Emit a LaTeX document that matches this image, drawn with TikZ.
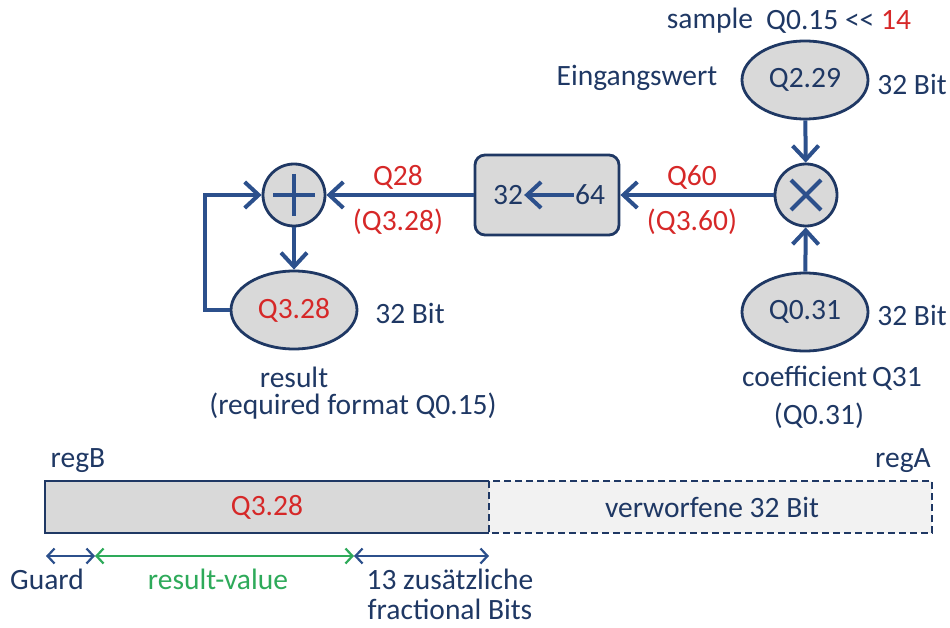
\documentclass[tikz,border=0pt]{standalone}
\usepackage{fontspec}
\setmainfont{Carlito}
\usetikzlibrary{arrows.meta,shapes.geometric}
\definecolor{navy}{RGB}{31,56,100}
\definecolor{linec}{RGB}{44,80,140}
\definecolor{qred}{RGB}{214,40,40}
\definecolor{qgreen}{RGB}{46,170,90}
\definecolor{boxgray}{RGB}{217,217,217}
\definecolor{palegray}{RGB}{242,242,242}
\begin{document}
\begin{tikzpicture}[x=1pt,y=-1pt,
  every node/.style={font=\fontsize{29.5}{34}\selectfont, text=navy},
  red/.style={text=qred},
  val/.style={ellipse, draw=navy, line width=2.8pt, fill=boxgray,
    minimum width=126pt, minimum height=78pt, inner sep=0pt},
  op/.style={circle, draw=navy, line width=2.8pt, fill=boxgray,
    minimum size=62pt, inner sep=0pt},
  flow/.style={draw=linec, line width=4pt,
    -{Straight Barb[length=14pt,width=26pt,line width=4pt]}},
  sym/.style={draw=linec, line width=4pt},
  dim/.style={line width=2.2pt,
    {Straight Barb[length=7pt,width=15pt,line width=2.2pt]}-{Straight Barb[length=7pt,width=15pt,line width=2.2pt]}},
  lbl/.style={inner sep=1pt}]
\useasboundingbox (0,0) rectangle (950,628);

% signal-flow nodes
\node[val] (inp) at (805,80) {Q2.29};
\node[op] (mul) at (806,195) {};
\node[val] (coef) at (805,312) {Q0.31};
\node[draw=navy, line width=2.8pt, fill=boxgray, rounded corners=10pt,
  minimum width=144pt, minimum height=80pt] (conv) at (547,195) {};
\node[lbl] (n32) at (508,195) {32};
\node[lbl] (n64) at (590,195) {64};
\node[op] (add) at (294,195) {};
\node[val, red] (res) at (294,310) {Q3.28};

% operator symbols
\draw[sym] (mul.center) ++(-15,-15) -- ++(30,30);
\draw[sym] (mul.center) ++(-15,15) -- ++(30,-30);
\draw[sym] (add.center) ++(-21,0) -- ++(42,0);
\draw[sym] (add.center) ++(0,-21) -- ++(0,42);

% connectors
\draw[flow] (inp) -- (mul);
\draw[flow] (coef) -- (mul);
\draw[flow] (mul) -- (conv);
\draw[flow] (conv) -- (add);
\draw[flow] (add) -- (res);
\draw[flow] (n64) -- (n32);
\coordinate (fb) at (205,310);
\draw[flow] (res.west) -- (fb) |- (add.west);

% labels
\node[red] (q60) at (692,177) {Q60};
\node[red] (q360) at (692,222) {(Q3.60)};
\node[red] (q28) at (398,177) {Q28};
\node[red] (q328) at (398,222) {(Q3.28)};
\node (b1) at (912,84) {32 Bit};
\node (b2) at (912,315) {32 Bit};
\node (b3) at (410,313) {32 Bit};
\node (smp) at (710,21) {sample};
\node[anchor=west, inner sep=0pt] (shift) at (766,22) {Q0.15 <{}< \textcolor{qred}{14}};
\node (ein) at (637,78) {Eingangswert};
\node[inner sep=0pt] (rlab) at (294,377) {result};
\node[inner sep=0pt] (rfmt) at (353,406) {(required format Q0.15)};
\node (clab) at (832,378) {coefficient\,Q31};
\node (cfmt) at (819,416) {(Q0.31)};

% register layout
\fill[boxgray] (45,481) rectangle (489,533);
\fill[palegray] (489,481) rectangle (932,533);
\draw[navy, line width=1.9pt] (489,481) -- (45,481) -- (45,533) -- (489,533);
\draw[navy, line width=1.9pt, dashed, dash pattern=on 7pt off 4pt] (489,481) rectangle (932,533);
\node[red] (rbv) at (267,507) {Q3.28};
\node (rav) at (712,507) {verworfene 32 Bit};
\node (regb) at (78,461) {regB};
\node (rega) at (903,461) {regA};

% bit-range markers
\coordinate (d0) at (46,556);
\coordinate (d1) at (95,556);
\coordinate (d2) at (354,556);
\coordinate (d3) at (489,556);
\draw[dim, linec] (d0) -- (d1);
\draw[dim, qgreen] (d1) -- (d2);
\draw[dim, linec] (d2) -- (d3);
\node (grd) at (47,579) {Guard};
\node[text=qgreen] (rv) at (218,579) {result-value};
\node (z13) at (450,579) {13 zusätzliche};
\node (fb2) at (450,609) {fractional Bits};
\end{tikzpicture}
\end{document}
